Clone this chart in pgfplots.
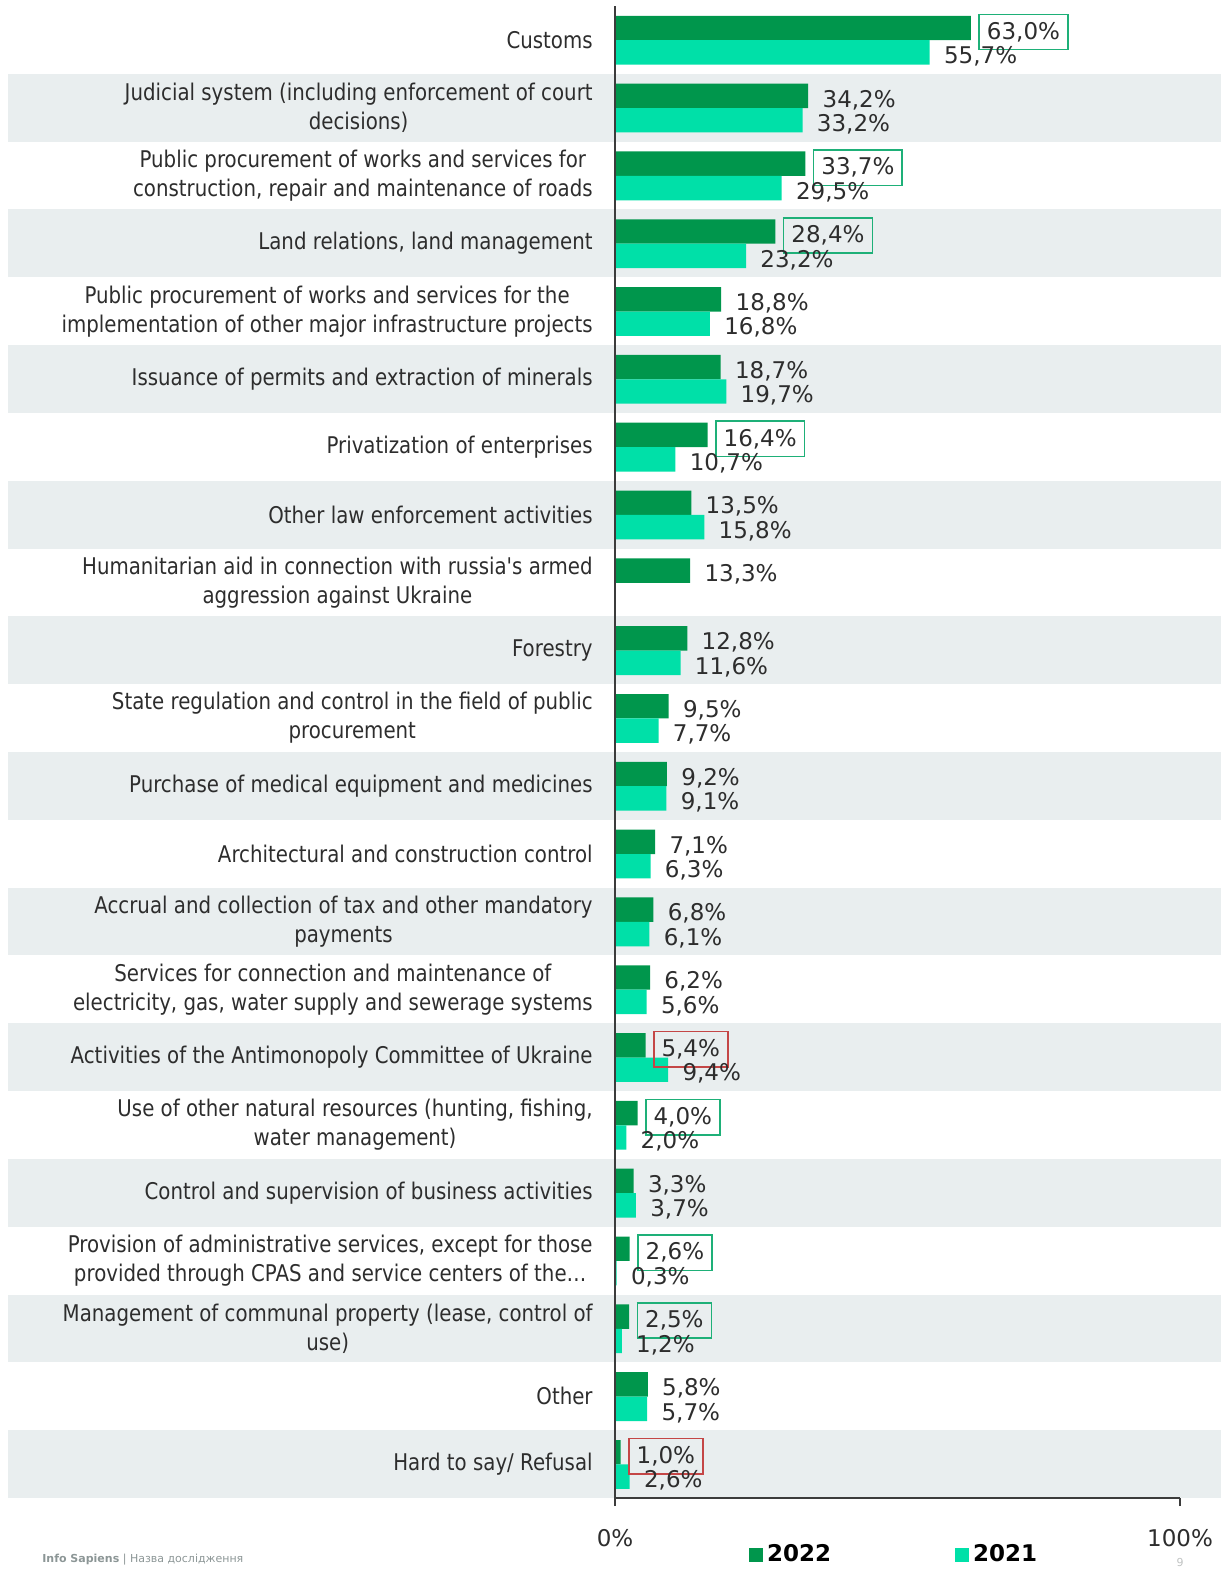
\documentclass[border=0pt]{standalone}
\usepackage{pgfplots}
\pgfplotsset{compat=1.18}
\usepackage{fontspec}
\setmainfont{DejaVu Sans}
\newfontfamily\catfamily{DejaVu Sans}[FakeStretch=0.86]
\definecolor{dkg}{RGB}{0,150,76}
\definecolor{ltg}{RGB}{0,224,168}
\definecolor{band}{RGB}{233,238,239}
\definecolor{txt}{RGB}{45,45,45}
\definecolor{boxg}{RGB}{30,176,120}
\definecolor{boxr}{RGB}{196,70,70}
\definecolor{axc}{RGB}{60,60,60}
\definecolor{foot}{RGB}{140,150,150}
\newcommand{\valfont}{\fontsize{11.5}{14}\selectfont}
\newcommand{\lbln}[1]{#1}
\newcommand{\lblg}[1]{\kern-3.5pt{\setlength\fboxsep{3.5pt}\setlength\fboxrule{0.8pt}\color{boxg}\fbox{\color{txt}#1}}}
\newcommand{\lblr}[1]{\kern-3.5pt{\setlength\fboxsep{3.5pt}\setlength\fboxrule{0.8pt}\color{boxr}\fbox{\color{txt}#1}}}
\begin{document}
\begin{tikzpicture}[x=1pt,y=1pt]
\path[use as bounding box] (0,0) rectangle (610.5,786);
\begin{axis}[
  at={(307.5pt,37pt)}, anchor=south west,
  width=282.5pt, height=746pt, scale only axis,
  xmin=0, xmax=100, ymin=-0.5, ymax=21.5,
  clip=false, axis on top,
  axis x line=bottom, axis y line=left,
  axis line style={-, draw=axc, line width=1pt},
  tick align=outside, major tick length=4pt,
  xtick={0,100}, xticklabels={0\%,100\%},
  xtick style={draw=axc, line width=1pt},
  xticklabel style={font=\valfont, text=txt, yshift=-8pt},
  ytick={0,...,21},
  ytick style={draw=none},
  yticklabel style={font=\catfamily\fontsize{11.5}{14.5}\selectfont, text=txt, align=center, anchor=east, inner sep=0pt, xshift=-7pt},
  yticklabels={
    {Hard to say/ Refusal},
    {Other},
    {Management of communal property (lease, control of\\use)},
    {Provision of administrative services, except for those\\provided through CPAS and service centers of the…},
    {Control and supervision of business activities},
    {Use of other natural resources (hunting, fishing,\\water management)},
    {Activities of the Antimonopoly Committee of Ukraine},
    {Services for connection and maintenance of\\electricity, gas, water supply and sewerage systems},
    {Accrual and collection of tax and other mandatory\\payments},
    {Architectural and construction control},
    {Purchase of medical equipment and medicines},
    {State regulation and control in the field of public\\procurement},
    {Forestry},
    {Humanitarian aid in connection with russia's armed\\aggression against Ukraine},
    {Other law enforcement activities},
    {Privatization of enterprises},
    {Issuance of permits and extraction of minerals},
    {Public procurement of works and services for the\\implementation of other major infrastructure projects},
    {Land relations, land management},
    {Public procurement of works and services for\\construction, repair and maintenance of roads},
    {Judicial system (including enforcement of court\\decisions)},
    {Customs}},
  xbar, bar width=0.36,
  point meta=explicit symbolic,
  nodes near coords={\csname lbl\pgfplotspointmeta\endcsname{\pgfmathprintnumber[fixed,fixed zerofill,precision=1,use comma,assume math mode=true]{\pgfkeysvalueof{/data point/x}}\%}},
  every node near coord/.append style={anchor=west, inner sep=0pt, xshift=7pt, yshift=-2pt, font=\valfont, text=txt},
  legend columns=2,
  legend style={at={(0.4956,-0.038)}, anchor=center, draw=none, fill=none,
    font=\valfont\bfseries, text=black,
    /tikz/every even column/.append style={column sep=60pt}},
  legend image code/.code={\fill[#1,draw=none] (0pt,-3.5pt) rectangle (7pt,3.5pt);},
]
\fill[band] (axis cs:-107.5,-0.5) rectangle (axis cs:107.3,0.5);
\fill[band] (axis cs:-107.5,1.5) rectangle (axis cs:107.3,2.5);
\fill[band] (axis cs:-107.5,3.5) rectangle (axis cs:107.3,4.5);
\fill[band] (axis cs:-107.5,5.5) rectangle (axis cs:107.3,6.5);
\fill[band] (axis cs:-107.5,7.5) rectangle (axis cs:107.3,8.5);
\fill[band] (axis cs:-107.5,9.5) rectangle (axis cs:107.3,10.5);
\fill[band] (axis cs:-107.5,11.5) rectangle (axis cs:107.3,12.5);
\fill[band] (axis cs:-107.5,13.5) rectangle (axis cs:107.3,14.5);
\fill[band] (axis cs:-107.5,15.5) rectangle (axis cs:107.3,16.5);
\fill[band] (axis cs:-107.5,17.5) rectangle (axis cs:107.3,18.5);
\fill[band] (axis cs:-107.5,19.5) rectangle (axis cs:107.3,20.5);
% 2022
\addplot[fill=dkg, draw=none, bar shift=0.175] coordinates {
 (63.0,21) [g] (34.2,20) [n] (33.7,19) [g] (28.4,18) [g] (18.8,17) [n]
 (18.7,16) [n] (16.4,15) [g] (13.5,14) [n] (13.3,13) [n] (12.8,12) [n]
 (9.5,11) [n] (9.2,10) [n] (7.1,9) [n] (6.8,8) [n] (6.2,7) [n]
 (5.4,6) [r] (4.0,5) [g] (3.3,4) [n] (2.6,3) [g] (2.5,2) [g]
 (5.8,1) [n] (1.0,0) [r]
};
\addlegendentry{2022}
% 2021
\addplot[fill=ltg, draw=none, bar shift=-0.185] coordinates {
 (55.7,21) [n] (33.2,20) [n] (29.5,19) [n] (23.2,18) [n] (16.8,17) [n]
 (19.7,16) [n] (10.7,15) [n] (15.8,14) [n] (11.6,12) [n]
 (7.7,11) [n] (9.1,10) [n] (6.3,9) [n] (6.1,8) [n] (5.6,7) [n]
 (9.4,6) [n] (2.0,5) [n] (3.7,4) [n] (0.3,3) [n] (1.2,2) [n]
 (5.7,1) [n] (2.6,0) [n]
};
\addlegendentry{2021}
\end{axis}
\node[anchor=west, inner sep=0pt, font=\fontsize{5.5}{6}\selectfont, text=foot] at (21,6) {\textbf{Info Sapiens} | Назва дослідження};
\node[anchor=center, inner sep=0pt, font=\fontsize{5.5}{6}\selectfont, text=band!60!gray] at (590,5) {9};
\end{tikzpicture}
\end{document}
